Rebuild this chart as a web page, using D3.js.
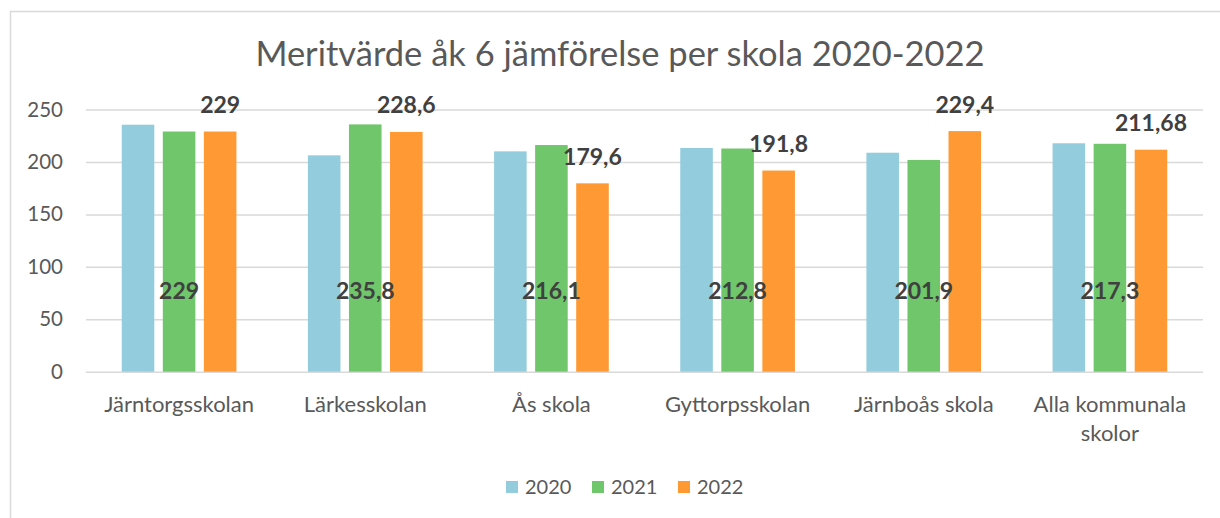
<!DOCTYPE html>
<html>
<head>
<meta charset="utf-8">
<script src="https://cdn.jsdelivr.net/npm/d3@7"></script>
<style>
  body { margin: 0; background: #fff; }
  svg { display: block; font-family: Lato, "Open Sans", sans-serif; }
</style>
</head>
<body>
<svg id="chart" width="1220" height="518"></svg>
<script>
const schools = ['Järntorgsskolan', 'Lärkesskolan', 'Ås skola', 'Gyttorpsskolan', 'Järnboås skola', 'Alla kommunala skolor'];
const years = ['2020', '2021', '2022'];
const values2020 = [235.5, 206.3, 210.1, 213.3, 208.8, 217.8];
const values2021 = [229, 235.8, 216.1, 212.8, 201.9, 217.3];
const values2022 = [229, 228.6, 179.6, 191.8, 229.4, 211.68];
const labels2021 = ['229', '235,8', '216,1', '212,8', '201,9', '217,3'];
const labels2022 = ['229', '228,6', '179,6', '191,8', '229,4', '211,68'];
const yTicks = [0, 50, 100, 150, 200, 250];
const colors = ['#93cddd', '#6fc66b', '#ff9933'];

const series = [values2020, values2021, values2022];

const svg = d3.select('#chart');

// chart area border (cut off at right/bottom in the reference)
svg.append('rect')
  .attr('x', 10.5).attr('y', 11.5)
  .attr('width', 1240).attr('height', 540)
  .attr('fill', '#fff')
  .attr('stroke', '#d9d9d9')
  .attr('stroke-width', 1.5);

const plot = { left: 86, right: 1203, top: 109.5, bottom: 371.7 };

const x0 = d3.scaleBand()
  .domain(schools)
  .range([plot.left, plot.right])
  .paddingInner(0.384)
  .paddingOuter(0.192);

const x1 = d3.scaleBand()
  .domain(years)
  .range([0, x0.bandwidth()])
  .paddingInner(0.207);

const y = d3.scaleLinear()
  .domain([0, 250])
  .range([plot.bottom, plot.top]);

// title
svg.append('text')
  .attr('x', 620).attr('y', 66)
  .attr('text-anchor', 'middle')
  .attr('fill', '#595959')
  .style('font-size', '34.5px')
  .text('Meritvärde åk 6 jämförelse per skola 2020-2022');

// gridlines + y axis labels
const yAxis = d3.axisLeft(y).tickValues(yTicks).tickSize(-(plot.right - plot.left)).tickPadding(23);
const yg = svg.append('g')
  .attr('transform', `translate(${plot.left},0)`)
  .call(yAxis);
yg.select('.domain').remove();
yg.selectAll('.tick line').attr('stroke', '#d9d9d9').attr('stroke-width', 1.5);
yg.selectAll('.tick text')
  .attr('fill', '#595959')
  .style('font-size', '20.5px')
  .style('font-family', 'Lato, sans-serif');

// x axis labels
const xAxis = d3.axisBottom(x0).tickSize(0).tickPadding(0);
const xg = svg.append('g')
  .attr('transform', `translate(0,${plot.bottom})`)
  .call(xAxis);
xg.select('.domain').remove();
xg.selectAll('.tick text').remove();
xg.selectAll('.tick').each(function (d) {
  const t = d3.select(this).append('text')
    .attr('text-anchor', 'middle')
    .attr('fill', '#595959')
    .style('font-size', '22px')
    .style('font-family', 'Lato, sans-serif');
  const lines = d === 'Alla kommunala skolor' ? ['Alla kommunala', 'skolor'] : [d];
  lines.forEach((line, i) => {
    t.append('tspan').attr('x', 0).attr('y', 40 + i * 29).text(line);
  });
});

// bars
const groups = svg.append('g').selectAll('g')
  .data(schools)
  .join('g')
  .attr('transform', d => `translate(${x0(d)},0)`);

groups.selectAll('rect')
  .data((d, i) => years.map((yr, j) => ({ year: yr, value: series[j][i], color: colors[j] })))
  .join('rect')
  .attr('x', d => x1(d.year))
  .attr('y', d => y(d.value))
  .attr('width', x1.bandwidth())
  .attr('height', d => y(0) - y(d.value))
  .attr('fill', d => d.color);

// data labels 2021 (low inside the bars)
svg.append('g').selectAll('text')
  .data(schools)
  .join('text')
  .attr('x', d => x0(d) + x1('2021') + x1.bandwidth() / 2)
  .attr('y', 291)
  .attr('dy', '0.35em')
  .attr('text-anchor', 'middle')
  .attr('fill', '#404040')
  .style('font-size', '23px')
  .style('font-weight', 'bold')
  .text((d, i) => labels2021[i]);

// data labels 2022 (above bars)
svg.append('g').selectAll('text')
  .data(schools)
  .join('text')
  .attr('x', d => x0(d) + x1('2022') + x1.bandwidth() / 2)
  .attr('y', (d, i) => y(values2022[i]) - 26.5)
  .attr('dy', '0.35em')
  .attr('text-anchor', 'middle')
  .attr('fill', '#404040')
  .style('font-size', '23px')
  .style('font-weight', 'bold')
  .text((d, i) => labels2022[i]);

// legend
const legend = svg.append('g').attr('transform', 'translate(506,487)');
const items = legend.selectAll('g')
  .data(years)
  .join('g')
  .attr('transform', (d, i) => `translate(${i * 86},0)`);
items.append('rect')
  .attr('x', 0).attr('y', -6)
  .attr('width', 12).attr('height', 12)
  .attr('fill', (d, i) => colors[i]);
items.append('text')
  .attr('x', 19).attr('y', 0)
  .attr('dy', '0.35em')
  .attr('fill', '#595959')
  .style('font-size', '20px')
  .text(d => d);
</script>
</body>
</html>
